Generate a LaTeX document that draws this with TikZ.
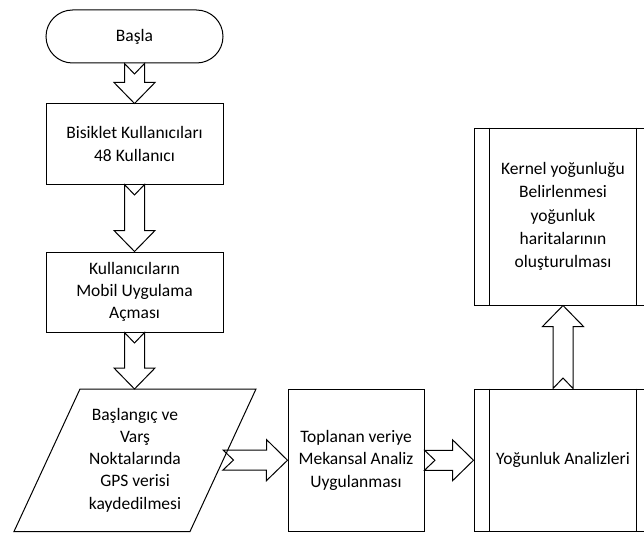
\documentclass[tikz,border=0pt]{standalone}
\usepackage{fontspec}
\setmainfont{Carlito}
\usetikzlibrary{calc}
\tikzset{
  every node/.style={font=\fontsize{17.5}{22.3}\selectfont, align=center},
  box/.style={draw, line width=1pt, inner sep=0pt},
  blk/.style={draw, line width=1pt, line join=miter},
}
\newcommand{\notcharrow}[2]{%
  \path (#1) coordinate (na-a) (#2) coordinate (na-b);
  \path ($(na-b)!21pt!(na-a)$) coordinate (na-h);
  \draw[blk] ($(na-a)!10pt!90:(na-b)$) -- ($(na-a)!10.5pt!(na-b)$)
    -- ($(na-a)!10pt!-90:(na-b)$) -- ($(na-h)!10pt!90:(na-a)$)
    -- ($(na-h)!20.5pt!90:(na-a)$) -- (na-b)
    -- ($(na-h)!20.5pt!-90:(na-a)$) -- ($(na-h)!10pt!-90:(na-a)$) -- cycle;}
\begin{document}
\begin{tikzpicture}[x=1pt,y=-1pt]
\useasboundingbox (0,0) rectangle (644,532);
\clip (0,0) rectangle (644,532);
\fill[white] (0,0) rectangle (644,532);

\node[box, rounded corners=26.5pt, minimum width=177pt, minimum height=53pt] (start) at (134.5,36.5) {Başla};
\node[box, minimum width=177pt, minimum height=80pt] (users) at (134.5,144) {Bisiklet Kullanıcıları\\48 Kullanıcı};
\node[box, minimum width=177pt, minimum height=80pt] (app) at (134.5,292) {Kullanıcıların\\Mobil Uygulama\\Açması};

% parallelogram (data)
\draw[line width=1pt] (80,389) -- (256,389) -- (190,531.5) -- (14,531.5) -- cycle;
\node (gps) at (135,460) {Başlangıç ve\\Varş\\Noktalarında\\GPS verisi\\kaydedilmesi};
\coordinate (gps-n) at (134.5,389);
\coordinate (gps-e) at (223,460);

\node[box, minimum width=136pt, minimum height=142.5pt] (spatial) at (356,460.25) {Toplanan veriye\\Mekansal Analiz\\Uygulanması};

\node[box, minimum width=178pt, minimum height=142.5pt] (dens) at (563,460.25) {Yoğunluk Analizleri};
\draw[line width=1pt] ([xshift=16pt]dens.north west) -- ([xshift=16pt]dens.south west);
\draw[line width=1pt] ([xshift=-16pt]dens.north east) -- ([xshift=-16pt]dens.south east);

\node[box, minimum width=178pt, minimum height=177pt, font=\fontsize{17.5}{23.3}\selectfont] (kernel) at (563,216.5) {Kernel yoğunluğu\\Belirlenmesi\\yoğunluk\\haritalarının\\oluşturulması};
\draw[line width=1pt] ([xshift=16pt]kernel.north west) -- ([xshift=16pt]kernel.south west);
\draw[line width=1pt] ([xshift=-16pt]kernel.north east) -- ([xshift=-16pt]kernel.south east);

\notcharrow{start.south}{users.north}
\notcharrow{users.south}{app.north}
\notcharrow{app.south}{gps-n}
\notcharrow{gps-e}{spatial.west}
\notcharrow{spatial.east}{dens.west}
\notcharrow{dens.north}{kernel.south}
\end{tikzpicture}
\end{document}
